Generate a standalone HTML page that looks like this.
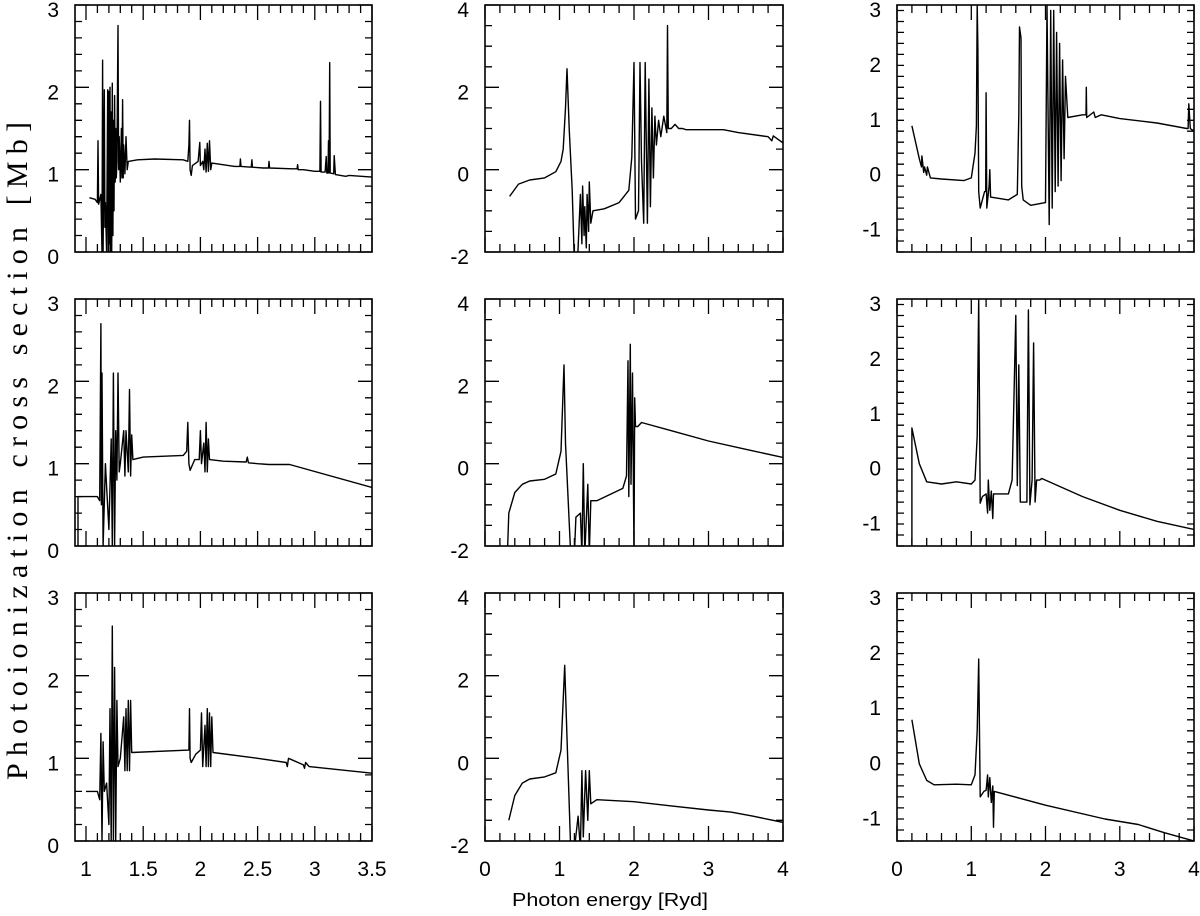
<!DOCTYPE html>
<html><head><meta charset="utf-8"><style>
html,body{margin:0;padding:0;background:#fff;}
svg{display:block;}
text{font-family:"Liberation Sans",sans-serif;fill:#000;}
</style></head><body>
<svg id="chart" width="1200" height="916" viewBox="0 0 1200 916">
<text x="0" y="0" transform="translate(27,451) rotate(-90)" text-anchor="middle" style="font-family:'Liberation Serif',serif;font-size:30px" textLength="658" lengthAdjust="spacing">Photoionization cross section [Mb]</text>
<text x="610" y="906" text-anchor="middle" style="font-size:18px" textLength="196" lengthAdjust="spacingAndGlyphs">Photon energy [Ryd]</text>
</svg>
<script>
// ---- data arrays (x, y per panel) ----
const p1x=[1.03,1.08,1.10,1.105,1.11,1.13,1.14,1.145,1.15,1.16,1.165,1.17,1.18,1.19,1.195,1.20,1.205,1.21,1.215,1.22,1.225,1.23,1.235,1.24,1.245,1.25,1.255,1.26,1.265,1.27,1.28,1.285,1.29,1.30,1.31,1.315,1.32,1.325,1.33,1.34,1.35,1.36,1.37,1.45,1.6,1.85,1.89,1.9,1.905,1.91,1.92,1.93,1.98,1.995,2.0,2.02,2.03,2.04,2.05,2.06,2.07,2.08,2.09,2.1,2.3,2.345,2.35,2.355,2.445,2.45,2.455,2.55,2.595,2.6,2.605,2.8,2.845,2.85,2.855,2.9,3.0,3.045,3.05,3.055,3.09,3.1,3.105,3.115,3.12,3.125,3.13,3.135,3.165,3.17,3.18,3.27,3.3,3.5];
const p1y=[0.66,0.64,0.60,1.35,0.58,0.70,0,2.33,0,1.97,0.3,0.6,0,1.97,0,1.95,0.1,2.0,0,1.7,0,2.05,0.2,1.6,0.5,1.9,0.85,1.5,0.9,1.1,2.75,1.0,1.4,0.85,1.5,0.9,1.85,0.9,1.3,0.95,1.4,1.0,1.1,1.12,1.13,1.12,1.1,1.3,1.6,1.0,0.93,1.05,1.1,1.33,1.05,1.1,1.0,1.25,0.97,1.32,0.98,1.35,1.0,1.08,1.04,1.04,1.13,1.04,1.03,1.12,1.03,1.02,1.02,1.1,1.02,1.01,1.01,1.06,1.0,1.0,0.98,0.98,1.83,0.97,0.97,1.16,0.96,0.96,1.35,0.96,2.3,0.96,0.95,1.17,0.94,0.92,0.93,0.91];
const p2x=[0.33,0.45,0.6,0.8,0.95,1.02,1.05,1.08,1.1,1.13,1.17,1.2,1.24,1.28,1.3,1.31,1.33,1.34,1.36,1.37,1.39,1.4,1.42,1.45,1.6,1.8,1.93,1.97,2.0,2.02,2.06,2.08,2.1,2.13,2.15,2.18,2.2,2.22,2.24,2.26,2.28,2.3,2.33,2.36,2.4,2.44,2.45,2.46,2.5,2.55,2.6,2.65,2.7,3.2,3.4,3.8,3.85,3.87,4.0];
const p2y=[-0.65,-0.35,-0.25,-0.2,-0.05,0.2,0.5,1.5,2.45,1.0,-0.5,-2.3,-2.3,-0.6,-1.8,-0.4,-1.6,-0.9,-1.9,-0.6,-1.5,-0.3,-1.3,-1.0,-0.95,-0.8,-0.5,0.3,2.6,-1.2,-1.0,2.6,0.2,-1.3,2.6,-1.3,2.2,-0.9,1.5,-0.2,1.3,0.6,1.2,0.8,1.3,0.9,3.5,1.0,1.0,1.1,1.0,1.0,0.97,0.97,0.9,0.8,0.7,0.82,0.65];
const p3x=[0.2,0.3,0.33,0.335,0.36,0.37,0.4,0.41,0.45,0.6,0.9,1.0,1.05,1.07,1.08,1.09,1.1,1.12,1.18,1.195,1.2,1.21,1.24,1.25,1.26,1.5,1.62,1.64,1.65,1.67,1.68,1.7,1.8,2.0,2.02,2.05,2.07,2.09,2.11,2.13,2.15,2.17,2.19,2.21,2.23,2.25,2.27,2.3,2.5,2.545,2.55,2.555,2.65,2.67,2.75,3.0,3.5,3.9,3.92,3.93,3.95,4.0];
const p3y=[0.8,0.2,0.05,0.25,-0.05,0.05,-0.1,0.05,-0.15,-0.17,-0.2,-0.15,0.3,0.8,3.0,2.2,-0.4,-0.7,-0.4,-0.4,1.4,-0.7,-0.3,0.0,-0.5,-0.55,-0.45,1.0,2.6,2.4,-0.3,-0.55,-0.65,-0.6,3.0,-1.0,2.9,-0.7,2.9,-0.4,2.5,-0.3,2.3,-0.2,2.0,0.2,1.7,0.95,1.0,1.0,1.5,0.95,1.05,0.95,1.0,0.93,0.85,0.75,0.75,1.2,0.75,0.7];
const p4x=[0.93,0.93,1.1,1.12,1.13,1.135,1.14,1.15,1.17,1.2,1.22,1.23,1.24,1.25,1.26,1.27,1.28,1.29,1.3,1.33,1.34,1.35,1.37,1.38,1.39,1.4,1.41,1.5,1.85,1.88,1.89,1.9,1.91,1.95,1.99,2.0,2.01,2.03,2.04,2.05,2.06,2.07,2.08,2.2,2.4,2.41,2.42,2.5,2.6,2.78,3.5];
const p4y=[0,0.6,0.6,0.55,2.7,0.5,2.1,0,1.0,0.2,1.3,0,2.1,0,1.4,0.8,2.1,0.9,1.0,1.4,0.85,1.4,0.9,1.9,0.85,1.35,1.05,1.08,1.1,1.15,1.5,1.0,0.92,1.05,1.05,1.4,1.0,1.25,0.9,1.5,0.9,1.3,1.05,1.03,1.02,1.08,1.01,1.0,0.99,0.99,0.71];
const p5x=[0.3,0.32,0.4,0.5,0.6,0.8,0.95,1.02,1.06,1.08,1.15,1.2,1.22,1.28,1.3,1.32,1.34,1.38,1.4,1.42,1.5,1.85,1.9,1.92,1.93,1.95,1.96,1.98,2.0,2.01,2.02,2.05,2.1,2.5,3.0,3.5,4.0];
const p5y=[-2.2,-1.2,-0.7,-0.5,-0.42,-0.38,-0.25,0.3,2.4,0.5,-2.2,-2.2,-1.3,-1.2,-2.2,0.0,-2.2,-0.5,-2.2,-0.9,-0.9,-0.6,-0.3,2.5,-0.8,2.9,-0.5,2.2,-2.2,1.6,0.9,0.9,1.0,0.8,0.55,0.35,0.15];
const p6x=[0.2,0.2,0.3,0.4,0.6,0.8,1.0,1.05,1.08,1.1,1.12,1.15,1.2,1.22,1.23,1.25,1.27,1.29,1.3,1.5,1.55,1.6,1.62,1.64,1.66,1.75,1.77,1.79,1.82,1.84,1.86,1.88,1.92,1.95,2.5,3.0,3.5,4.0];
const p6y=[-1.6,0.65,0.0,-0.33,-0.37,-0.33,-0.37,-0.3,0.5,3.0,-0.72,-0.6,-0.55,-0.9,-0.3,-0.85,-0.5,-1.0,-0.55,-0.55,-0.3,2.7,-0.4,1.8,-0.7,-0.7,2.8,-0.75,-0.3,2.2,-0.7,-0.3,-0.3,-0.27,-0.6,-0.85,-1.05,-1.2];
const p7x=[1.0,1.1,1.12,1.13,1.14,1.15,1.16,1.18,1.2,1.21,1.22,1.23,1.24,1.25,1.26,1.27,1.28,1.3,1.33,1.34,1.35,1.36,1.37,1.38,1.39,1.4,1.9,1.905,1.91,1.92,1.96,2.0,2.01,2.02,2.04,2.05,2.06,2.07,2.08,2.09,2.1,2.11,2.5,2.75,2.76,2.77,2.9,2.91,2.92,2.95,3.5];
const p7y=[0.6,0.6,0.5,1.3,0,1.2,0.6,0.7,0.2,1.6,0,2.6,0,2.1,0,1.7,0.9,1.0,1.5,0.85,1.6,0.85,1.7,0.85,1.7,1.07,1.1,1.6,1.0,0.95,1.05,1.1,1.55,0.9,1.4,0.9,1.6,0.9,1.55,0.9,1.5,1.07,1.0,0.95,0.9,1.0,0.92,0.88,0.95,0.9,0.82];
const p8x=[0.32,0.4,0.5,0.6,0.8,0.95,1.02,1.07,1.1,1.15,1.2,1.25,1.28,1.3,1.32,1.35,1.38,1.4,1.42,1.5,2.0,2.5,3.0,3.3,3.6,4.0];
const p8y=[-1.5,-0.9,-0.6,-0.5,-0.45,-0.35,0.2,2.25,0.5,-2.2,-2.2,-1.4,-2.2,-0.3,-1.9,-0.3,-1.5,-0.3,-1.1,-1.0,-1.05,-1.15,-1.25,-1.3,-1.4,-1.55];
const p9x=[0.2,0.3,0.4,0.5,0.8,1.0,1.05,1.08,1.1,1.12,1.17,1.2,1.22,1.23,1.25,1.27,1.29,1.3,1.31,2.0,2.8,3.25,3.6,4.0];
const p9y=[0.7,-0.1,-0.4,-0.48,-0.47,-0.48,-0.3,0.5,1.8,-0.7,-0.6,-0.58,-0.3,-0.7,-0.35,-0.8,-0.5,-1.25,-0.6,-0.85,-1.1,-1.2,-1.35,-1.5];
// tick label arrays
const col1XTicks=["1","1.5","2","2.5","3","3.5"];
const col23XTicks=["0","1","2","3","4"];
const col1YTicks=["0","1","2","3"];
const col2YTicks=["-2","0","2","4"];
const col3YTicks=["-1","0","1","2","3"];

const NS="http://www.w3.org/2000/svg";
const svg=document.getElementById('chart');
function mk(tag,attrs,parent){const e=document.createElementNS(NS,tag);for(const k in attrs)e.setAttribute(k,attrs[k]);(parent||svg).appendChild(e);return e;}

const colsG=[
 {L:75,R:372,xmin:0.904,xmax:3.5,xMaj:0.5,xMin:0.1,xt:col1XTicks,ymin:0,ymax:3,yMaj:1,yMin:0.2,yt:col1YTicks},
 {L:485,R:783,xmin:0,xmax:4,xMaj:1,xMin:0.2,xt:col23XTicks,ymin:-2,ymax:4,yMaj:2,yMin:0.5,yt:col2YTicks},
 {L:897,R:1194,xmin:0,xmax:4,xMaj:1,xMin:0.2,xt:col23XTicks,ymin:-1.5,ymax:3,yMaj:1,yMin:0.2,yt:col3YTicks}
];
const rowsG=[{T:5,B:252},{T:299,B:546},{T:593,B:841}];
const series=[[p1x,p1y],[p2x,p2y],[p3x,p3y],[p4x,p4y],[p5x,p5y],[p6x,p6y],[p7x,p7y],[p8x,p8y],[p9x,p9y]];

rowsG.forEach((rw,ri)=>{colsG.forEach((c,ci)=>{
 const idx=ri*3+ci;
 const g=mk('g',{});
 
 
 const sx=v=>c.L+(v-c.xmin)/(c.xmax-c.xmin)*(c.R-c.L);
 const sy=v=>rw.B-(v-c.ymin)/(c.ymax-c.ymin)*(rw.B-rw.T);
 const cid='clip'+idx;
 const cp=mk('clipPath',{id:cid},g);mk('rect',{x:c.L,y:rw.T,width:c.R-c.L,height:rw.B-rw.T},cp);
 const eps=1e-6;
 const tg=mk('g',{stroke:'#000','stroke-width':1.3},g);
 
 
 let d='';
 for(let v=Math.ceil(c.xmin/c.xMin-eps)*c.xMin;v<=c.xmax+eps;v+=c.xMin){
   const major=Math.abs(v/c.xMaj-Math.round(v/c.xMaj))<1e-4;const len=major?15:8;const X=sx(v).toFixed(1);
   d+=`M${X},${rw.B}v${-len}M${X},${rw.T}v${len}`;
 }
 for(let v=c.ymin;v<=c.ymax+eps;v+=c.yMin){
   const major=Math.abs(v/c.yMaj-Math.round(v/c.yMaj))<1e-4;const len=major?14:7;const Y=sy(v).toFixed(1);
   d+=`M${c.L},${Y}h${len}M${c.R},${Y}h${-len}`;
 }
 mk('path',{d:d,fill:'none'},tg);
 const [xs,ys]=series[idx];
 let pd='';xs.forEach((x,i)=>{pd+=(i?'L':'M')+sx(x).toFixed(1)+','+sy(ys[i]).toFixed(1);});
 const ln=mk('path',{d:pd,fill:'none',stroke:'#000','stroke-width':1.4,'stroke-linejoin':'round','clip-path':'url(#'+cid+')'},g);
 
 
 const fr=mk('rect',{x:c.L,y:rw.T,width:c.R-c.L,height:rw.B-rw.T,fill:'none',stroke:'#000','stroke-width':1.6},g);
 
 
 c.yt.forEach(s=>{const v=parseFloat(s);
   const t=mk('text',{x:c.L-16,y:sy(v)+12,'text-anchor':'end','font-size':21},g);t.textContent=s;
   
   
 });
 if(ri===2){c.xt.forEach(s=>{const v=parseFloat(s);
   const t=mk('text',{x:sx(v),y:876,'text-anchor':'middle','font-size':21},g);t.textContent=s;
   
   
 });}
});});
</script>
</body></html>
